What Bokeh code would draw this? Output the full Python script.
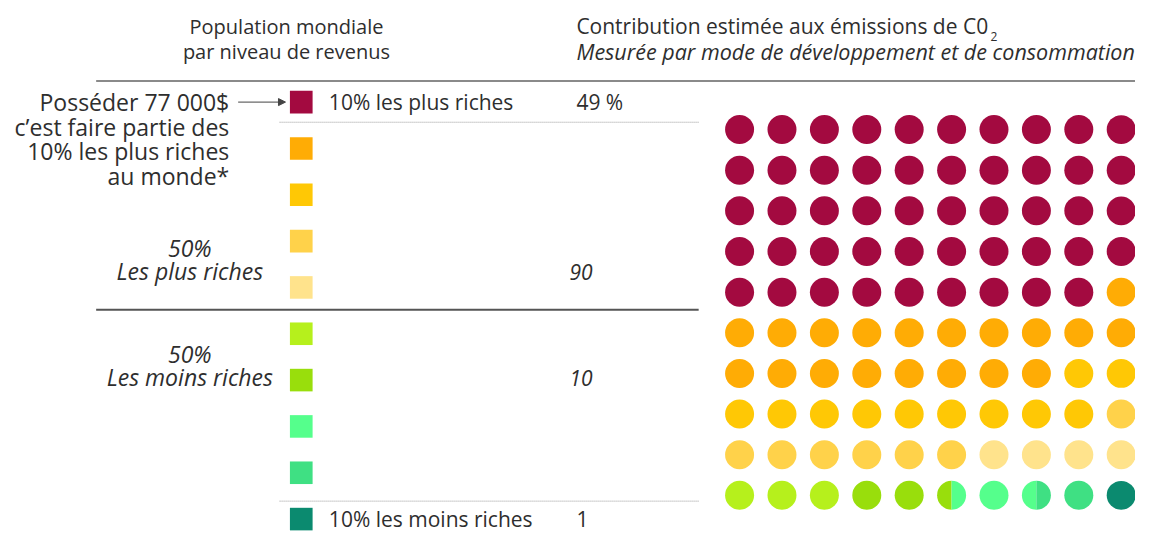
from bokeh.plotting import figure
from bokeh.models import Range1d, Arrow, NormalHead
from bokeh.core.properties import value
from bokeh.embed import file_html
from bokeh.resources import INLINE

# ---------------- data ----------------
decile_names = ["10% les plus riches", "", "", "", "", "", "", "", "", "10% les moins riches"]
emissions = [49, 19, 11, 7, 4, 3, 2.5, 2, 1.5, 1]          # % of CO2 per decile (dots)
decile_values = ["49 %", "", "", "", "", "", "", "", "", "1"]
decile_colors = ["#A30A40", "#FFAC05", "#FFC805", "#FFD24A", "#FFE38C",
                 "#B6F01C", "#99DE0C", "#55FF8C", "#3FE083", "#0B8A6F"]
group_pct = ["50%", "50%"]
group_names = ["Les plus riches", "Les moins riches"]
group_totals = ["90", "10"]
note_lines = ["Posséder 77 000$", "c\u2019est faire partie des", "10% les plus riches", "au monde*"]
title_left = ["Population mondiale", "par niveau de revenus"]
title_right = "Contribution estimée aux émissions de C0"
title_right_sub = "2"
subtitle_right = "Mesurée par mode de développement et de consommation"

# ---------------- layout ----------------
FONT = value("Open Sans")
TXT = "#2e2e2e"
W, H = 1135, 534
ROW_Y0, ROW_DY = 107.5, 47.2
SQ_X, SQ = 305, 23
DOT_X0, DOT_DX = 749.5, 43.0
DOT_Y0, DOT_DY = 135.5, 41.4
DOT_R = 14.7
NCOL = 10

p = figure(width=W, height=H, x_range=Range1d(0, 1151), y_range=Range1d(548, 4),
           output_backend="svg", toolbar_location=None, min_border=0,
           x_axis_type=None, y_axis_type=None)
p.grid.visible = False
p.outline_line_color = None
p.background_fill_color = "white"
p.border_fill_color = "white"

def txt(x, y, t, size="21px", align="left", style="normal", color=TXT, baseline="middle"):
    p.text(x=[x], y=[y], text=[t], text_font=FONT, text_font_size=value(size),
           text_align=align, text_baseline=baseline, text_font_style=style, text_color=color)

# headers
txt(290, 30, title_left[0], size="20px", align="center")
txt(290, 56, title_left[1], size="20px", align="center")
txt(584, 30, title_right)
txt(1004, 41, title_right_sub, size="12px")
txt(584, 56, subtitle_right, size="21.5px", style="italic")

# lines
p.segment(x0=[97], y0=[86], x1=[1151], y1=[86], line_color="#8a8a8a", line_width=2)
p.segment(x0=[97], y0=[319], x1=[708], y1=[319], line_color="#555555", line_width=2)
p.segment(x0=[283, 283], y0=[128, 514], x1=[708, 708], y1=[128, 514],
          line_color="#9a9a9a", line_width=1, line_dash="1 1")

# squares and labels per decile
ys = [ROW_Y0 + i * ROW_DY for i in range(len(emissions))]
p.rect(x=[SQ_X] * len(ys), y=ys, width=SQ, height=SQ, fill_color=decile_colors, line_color=None)
for i, (n, v) in enumerate(zip(decile_names, decile_values)):
    if n:
        txt(333, ys[i], n)
    if v:
        txt(584, ys[i], v)

# left note + arrow
for k, line in enumerate(note_lines):
    txt(232, ROW_Y0 + k * 25, line, size="23px", align="right")
p.add_layout(Arrow(end=NormalHead(size=7, fill_color="#444444", line_color="#444444"),
                   x_start=241, y_start=ROW_Y0, x_end=289, y_end=ROW_Y0,
                   line_color="#444444", line_width=1))

# group labels
gy = [256, 364]
for g in range(2):
    txt(192, gy[g], group_pct[g], size="23px", align="center", style="italic")
    txt(192, gy[g] + 24, group_names[g], size="23px", align="center", style="italic")
txt(577, 281, group_totals[0], style="italic")
txt(577, 389, group_totals[1], style="italic")

# dots (one per % point), fragments where a decile ends mid-dot
full = {"x": [], "y": [], "c": []}
part = {"x": [], "y": [], "c": [], "a0": [], "a1": []}
start = 0.0
for val, col in zip(emissions, decile_colors):
    end = start + val
    k = int(start)
    while k < end:
        f0 = max(start, k) - k
        f1 = min(end, k + 1) - k
        cx = DOT_X0 + (k % NCOL) * DOT_DX
        cy = DOT_Y0 + (k // NCOL) * DOT_DY
        if f0 == 0 and f1 == 1:
            full["x"].append(cx); full["y"].append(cy); full["c"].append(col)
        elif f1 > f0:
            part["x"].append(cx); part["y"].append(cy); part["c"].append(col)
            part["a0"].append(90 + 360 * f0); part["a1"].append(90 + 360 * f1)
        k += 1
    start = end

p.circle(x=full["x"], y=full["y"], radius=DOT_R, fill_color=full["c"], line_color=None)
p.wedge(x=part["x"], y=part["y"], radius=DOT_R, start_angle=part["a0"], end_angle=part["a1"],
        start_angle_units="deg", end_angle_units="deg", direction="anticlock",
        fill_color=part["c"], line_color=None)

open("out.html", "w").write(file_html(p, INLINE))
